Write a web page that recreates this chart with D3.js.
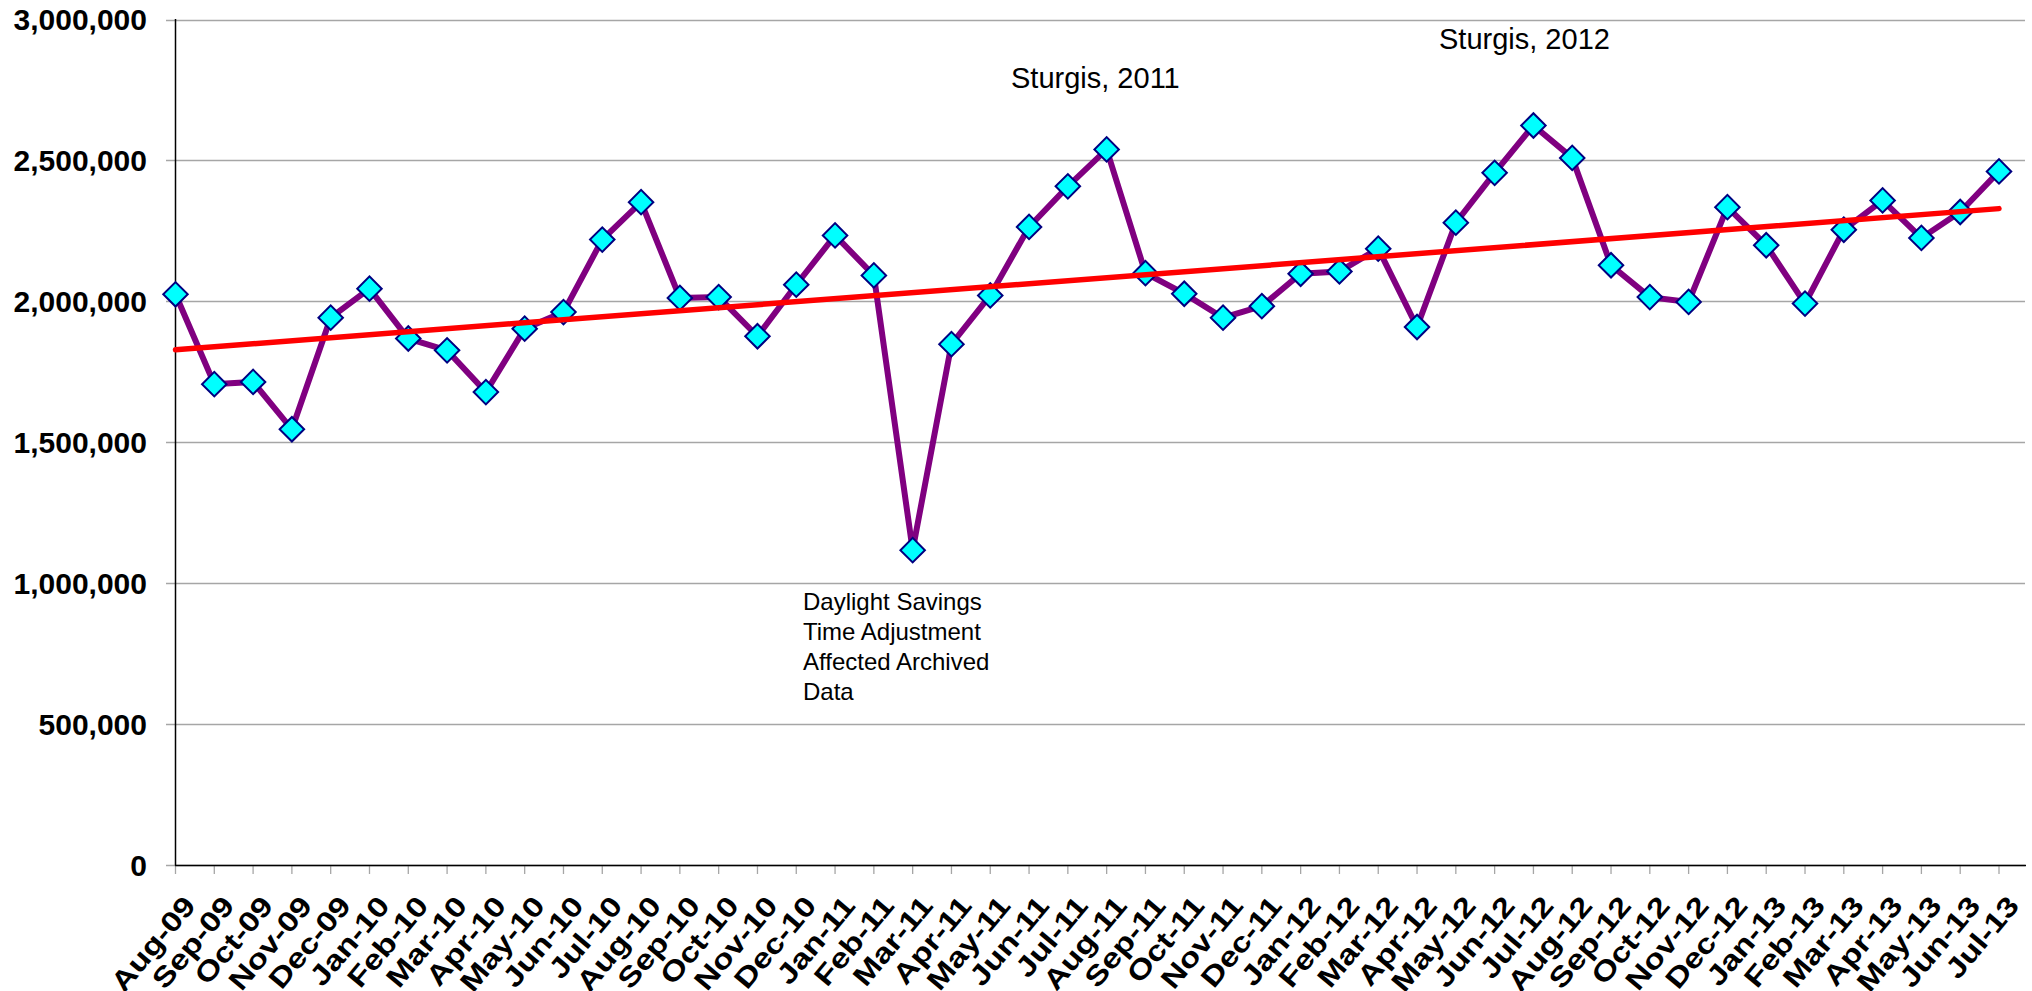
<!DOCTYPE html>
<html>
  <head>
    <meta charset="utf-8">
    <title>Monthly traffic, Aug 2009 - Jul 2013</title>
    <script src="https://d3js.org/d3.v7.min.js"></script>
    <style>
      body { margin: 0; background: #fff; }
      svg { display: block; font-family: "Liberation Sans", Arial, sans-serif; }
      .grid line { stroke: #a6a6a6; stroke-width: 1.3; }
      .ylab { font-weight: bold; font-size: 30px; fill: #000; }
      .xlab { font-weight: bold; font-size: 28px; fill: #000; }
      .note { font-size: 24px; fill: #000; }
    </style>
  </head>
  <body>
    <svg id="chart" width="2032" height="991"></svg>
    <script>
      // data
      months = ["Aug-09", "Sep-09", "Oct-09", "Nov-09", "Dec-09", "Jan-10", "Feb-10", "Mar-10",
        "Apr-10", "May-10", "Jun-10", "Jul-10", "Aug-10", "Sep-10", "Oct-10", "Nov-10", "Dec-10",
        "Jan-11", "Feb-11", "Mar-11", "Apr-11", "May-11", "Jun-11", "Jul-11", "Aug-11", "Sep-11",
        "Oct-11", "Nov-11", "Dec-11", "Jan-12", "Feb-12", "Mar-12", "Apr-12", "May-12", "Jun-12",
        "Jul-12", "Aug-12", "Sep-12", "Oct-12", "Nov-12", "Dec-12", "Jan-13", "Feb-13", "Mar-13",
        "Apr-13", "May-13", "Jun-13", "Jul-13"];
      counts = [2025000, 1706000, 1714000, 1546000, 1942000, 2045000, 1868000, 1826000,
        1678000, 1903000, 1962000, 2219000, 2352000, 2012000, 2015000, 1876000, 2059000,
        2234000, 2092000, 1117000, 1848000, 2021000, 2264000, 2408000, 2539000, 2100000,
        2027000, 1942000, 1983000, 2098000, 2106000, 2187000, 1909000, 2279000, 2456000,
        2624000, 2509000, 2128000, 2015000, 1998000, 2334000, 2199000, 1992000, 2254000,
        2358000, 2225000, 2317000, 2461000];
      yTicks = [0, 500000, 1000000, 1500000, 2000000, 2500000, 3000000];
      sturgis2011 = "Sturgis, 2011";
      sturgis2012 = "Sturgis, 2012";
      dstNote = ["Daylight Savings", "Time Adjustment", "Affected Archived", "Data"];

      svg = d3.select("#chart");

      x = d3.scalePoint()
        .domain(months)
        .range([175.5, 1999]);
      y = d3.scaleLinear()
        .domain([0, 3000000])
        .range([865, 19.5]);

      // gridlines (they also make the y tick stubs)
      svg.append("g")
          .attr("class", "grid")
        .selectAll("line")
          .data(yTicks)
        .enter().append("line")
          .attr("x1", 166)
          .attr("x2", 2025)
          .attr("y1", function(d) { return Math.round(y(d)) + .5; })
          .attr("y2", function(d) { return Math.round(y(d)) + .5; });

      // x axis ticks
      svg.append("g")
        .selectAll("line")
          .data(months)
        .enter().append("line")
          .attr("x1", function(d) { return x(d); })
          .attr("x2", function(d) { return x(d); })
          .attr("y1", 865)
          .attr("y2", 874)
          .style("stroke", "#a6a6a6")
          .style("stroke-width", 1.3);

      // axis lines
      svg.append("line")
        .attr("x1", 175.5).attr("x2", 175.5)
        .attr("y1", 19).attr("y2", 865.5)
        .style("stroke", "#000").style("stroke-width", 1.5);
      svg.append("line")
        .attr("x1", 175).attr("x2", 2026)
        .attr("y1", 865.5).attr("y2", 865.5)
        .style("stroke", "#000").style("stroke-width", 1.5);

      // y labels
      svg.append("g")
        .selectAll("text")
          .data(yTicks)
        .enter().append("text")
          .attr("class", "ylab")
          .attr("x", 147)
          .attr("y", function(d) { return y(d); })
          .attr("dy", "0.36em")
          .attr("text-anchor", "end")
          .text(d3.format(","));

      // x labels, steep and drawn long like the original
      svg.append("g")
        .selectAll("text")
          .data(months)
        .enter().append("text")
          .attr("class", "xlab")
          .attr("text-anchor", "end")
          .attr("dy", "0.36em")
          .attr("transform", function(d) { return "translate(" + (x(d) + 13.8) + ",900) rotate(-50) scale(1.2,1)"; })
          .text(function(d) { return d; });

      // the series
      line = d3.line()
        .x(function(d, i) { return x(months[i]); })
        .y(function(d) { return y(d); });
      svg.append("path")
        .datum(counts)
        .attr("d", line)
        .style("fill", "none")
        .style("stroke", "#800080")
        .style("stroke-width", 6)
        .style("stroke-linejoin", "miter");

      diamond = d3.symbol().type(d3.symbolSquare).size(300);
      svg.append("g")
        .selectAll("path")
          .data(counts)
        .enter().append("path")
          .attr("d", diamond)
          .attr("transform", function(d, i) { return "translate(" + x(months[i]) + "," + y(d) + ") rotate(45)"; })
          .style("fill", "#00ffff")
          .style("stroke", "#000080")
          .style("stroke-width", 2);

      // linear trend, least squares over month index
      idx = counts.map(function(d, i) { return i; });
      mx = d3.mean(idx);
      my = d3.mean(counts);
      slope = d3.sum(idx, function(i) { return (i - mx) * (counts[i] - my); }) /
        d3.sum(idx, function(i) { return (i - mx) * (i - mx); });
      icept = my - slope * mx;
      n = counts.length - 1;
      svg.append("line")
        .attr("x1", x(months[0]))
        .attr("y1", y(icept))
        .attr("x2", x(months[n]))
        .attr("y2", y(icept + slope * n))
        .style("stroke", "#ff0000")
        .style("stroke-width", 5.5)
        .style("stroke-linecap", "round");

      // notes
      svg.append("text")
        .attr("class", "note")
        .attr("x", 1011).attr("y", 88)
        .style("font-size", "29px")
        .text(sturgis2011);
      svg.append("text")
        .attr("class", "note")
        .attr("x", 1439).attr("y", 49)
        .style("font-size", "29px")
        .text(sturgis2012);
      svg.append("g")
        .selectAll("text")
          .data(dstNote)
        .enter().append("text")
          .attr("class", "note")
          .attr("x", 803)
          .attr("y", function(d, i) { return 610 + i * 30; })
          .text(function(d) { return d; });
    </script>
  </body>
</html>
